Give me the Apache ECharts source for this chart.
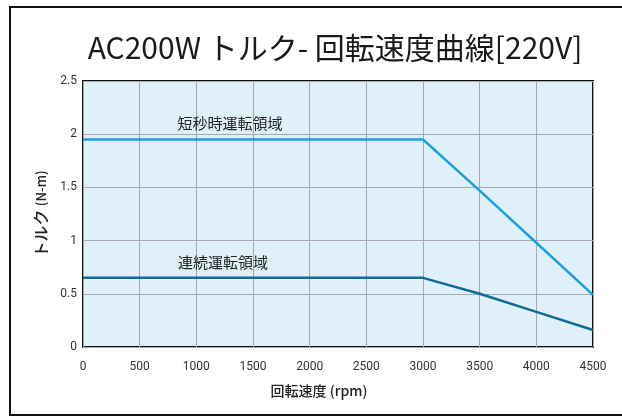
<!DOCTYPE html>
<html>
<head>
<meta charset="utf-8">
<script src="https://cdn.jsdelivr.net/npm/echarts@6/dist/echarts.min.js"></script>
<style>
  html, body { margin: 0; padding: 0; background: #fff; }
  #chart { width: 622px; height: 417px; }
</style>
</head>
<body>
<div id="chart"></div>
<script>
// Speed (rpm) breakpoints of the torque curves
const speeds = [0, 3000, 3500, 4000, 4500];
// Peak (short-duration) torque, N-m
const peakTorque = [1.95, 1.95, 1.47, 0.98, 0.49];
// Continuous torque, N-m
const contTorque = [0.65, 0.65, 0.5, 0.33, 0.16];
const peakLabel = '短秒時運転領域';
const contLabel = '連続運転領域';
const xTicks = [0, 500, 1000, 1500, 2000, 2500, 3000, 3500, 4000, 4500];
const yTicks = [0, 0.5, 1, 1.5, 2, 2.5];

const tickFont = "'Roboto', sans-serif";
const cjkFont = "'Noto Sans CJK JP', 'Noto Sans', sans-serif";

const toPairs = (xs, ys) => xs.map((x, i) => [x, ys[i]]);

// Region caption placed just above the flat part of a curve
const caption = (text, x, y) => ({
  symbol: 'circle',
  symbolSize: 1,
  itemStyle: { color: 'rgba(0,0,0,0)' },
  data: [{ coord: [x, y], value: text }],
  label: {
    show: true, position: 'top', distance: 8,
    formatter: text,
    fontFamily: cjkFont, fontSize: 15, color: '#222'
  }
});

const chart = echarts.init(document.getElementById('chart'));
chart.setOption({
  animation: false,
  backgroundColor: '#ffffff',
  title: {
    text: 'AC200W トルク- 回転速度曲線[220V]',
    left: 330,
    textAlign: 'center',
    top: 28,
    textStyle: { fontFamily: cjkFont, fontSize: 30, fontWeight: 'normal', color: '#1a1a1a' }
  },
  graphic: [{
    type: 'rect',
    shape: { x: 10, y: 7, width: 700, height: 408 },
    style: { fill: 'none', stroke: '#111', lineWidth: 2 },
    silent: true,
    z: -1
  }],
  grid: {
    left: 83, right: 29, top: 81, bottom: 70,
    show: true,
    backgroundColor: '#dff0fa',
    borderColor: '#111',
    borderWidth: 2
  },
  xAxis: {
    type: 'value',
    min: xTicks[0], max: xTicks[xTicks.length - 1], interval: 500,
    name: '回転速度 (rpm)',
    nameLocation: 'middle',
    nameGap: 37,
    nameTextStyle: { fontFamily: cjkFont, fontSize: 14, fontWeight: 500, color: '#222', padding: [0, 38, 0, 0] },
    axisLine: { show: false },
    axisTick: { show: false },
    axisLabel: { margin: 14, fontFamily: tickFont, fontSize: 12, color: '#333', formatter: v => String(v) },
    splitLine: { show: true, lineStyle: { color: '#a9a9a9', width: 1 } }
  },
  yAxis: {
    type: 'value',
    min: yTicks[0], max: yTicks[yTicks.length - 1], interval: 0.5,
    name: '{a|トルク} {b|(N-m)}',
    nameLocation: 'middle',
    nameGap: 34,
    nameRotate: 90,
    nameTextStyle: {
      rich: {
        a: { fontFamily: cjkFont, fontSize: 16, fontWeight: 500, color: '#222' },
        b: { fontFamily: cjkFont, fontSize: 13, fontWeight: 500, color: '#222' }
      }
    },
    axisLine: { show: false },
    axisTick: { show: false },
    axisLabel: { margin: 6, fontFamily: tickFont, fontSize: 12, color: '#333' },
    splitLine: { show: true, lineStyle: { color: '#a9a9a9', width: 1 } }
  },
  series: [
    {
      name: peakLabel,
      type: 'line',
      data: toPairs(speeds, peakTorque),
      symbol: 'none',
      lineStyle: { color: '#1a9fe2', width: 2.5 },
      markPoint: caption(peakLabel, 1297, peakTorque[0])
    },
    {
      name: contLabel,
      type: 'line',
      data: toPairs(speeds, contTorque),
      symbol: 'none',
      lineStyle: { color: '#0f6b97', width: 2.5 },
      markPoint: caption(contLabel, 1235, contTorque[0])
    }
  ]
});
</script>
</body>
</html>
